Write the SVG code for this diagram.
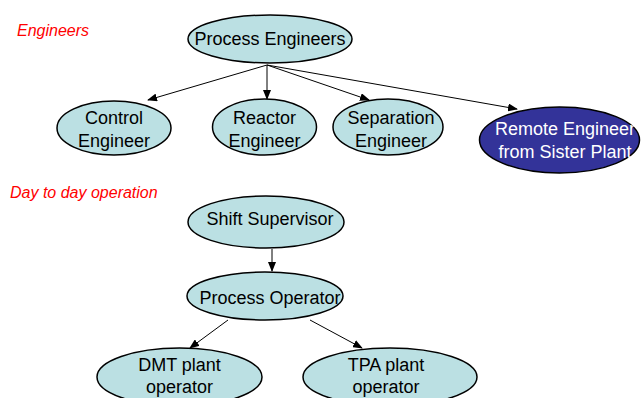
<svg xmlns="http://www.w3.org/2000/svg" width="642" height="398" viewBox="0 0 642 398">
<defs>
<style>
.n{fill:#bbe0e3;stroke:#000;stroke-width:1.5}
.d{fill:#333399;stroke:#000;stroke-width:1.5}
.t{font-family:"Liberation Sans",Arial,sans-serif;font-size:18px;text-anchor:middle;fill:#000}
.w{fill:#fff}
.r{font-family:"Liberation Sans",Arial,sans-serif;font-style:italic;font-size:16px;fill:#ff0000}
.c line{stroke:#000;stroke-width:1;marker-end:url(#a)}
</style>
<marker id="a" markerWidth="10" markerHeight="8" refX="9" refY="4" orient="auto" markerUnits="userSpaceOnUse">
<path d="M0,0 L10,4 L0,8 z" fill="#000"/>
</marker>
</defs>
<rect width="642" height="398" fill="#fff"/>
<text class="r" x="17" y="36">Engineers</text>
<text class="r" x="10" y="198">Day to day operation</text>
<g class="c">
<line x1="267" y1="65" x2="148" y2="100"/>
<line x1="267" y1="65" x2="267" y2="99"/>
<line x1="267" y1="65" x2="369" y2="100"/>
<line x1="267" y1="65" x2="517" y2="109"/>
<line x1="272" y1="249" x2="272" y2="271"/>
<line x1="228" y1="320" x2="190" y2="348"/>
<line x1="310" y1="320" x2="362" y2="348"/>
</g>
<g id="process-engineers"><ellipse class="n" cx="270" cy="39" rx="82" ry="24"/><text class="t" x="270" y="45">Process Engineers</text></g>
<g id="control-engineer"><ellipse class="n" cx="114" cy="128" rx="57" ry="27"/><text class="t" x="114" y="124">Control</text><text class="t" x="114" y="147">Engineer</text></g>
<g id="reactor-engineer"><ellipse class="n" cx="264.5" cy="127" rx="52" ry="28"/><text class="t" x="264.5" y="124">Reactor</text><text class="t" x="264.5" y="147">Engineer</text></g>
<g id="separation-engineer"><ellipse class="n" cx="388" cy="127" rx="55" ry="28"/><text class="t" x="391" y="124">Separation</text><text class="t" x="391" y="147">Engineer</text></g>
<g id="remote-engineer"><ellipse class="d" cx="559.5" cy="140" rx="80" ry="33"/><text class="t w" x="565" y="135">Remote Engineer</text><text class="t w" x="565" y="158">from Sister Plant</text></g>
<g id="shift-supervisor"><ellipse class="n" cx="266" cy="222" rx="78" ry="26"/><text class="t" x="270" y="225">Shift Supervisor</text></g>
<g id="process-operator"><ellipse class="n" cx="265" cy="296" rx="78" ry="24"/><text class="t" x="270" y="304">Process Operator</text></g>
<g id="dmt-operator"><ellipse class="n" cx="179.5" cy="377" rx="82.5" ry="29"/><text class="t" x="179.5" y="371">DMT plant</text><text class="t" x="179.5" y="393">operator</text></g>
<g id="tpa-operator"><ellipse class="n" cx="390" cy="377" rx="87" ry="29"/><text class="t" x="386" y="371">TPA plant</text><text class="t" x="386" y="393">operator</text></g>
</svg>
